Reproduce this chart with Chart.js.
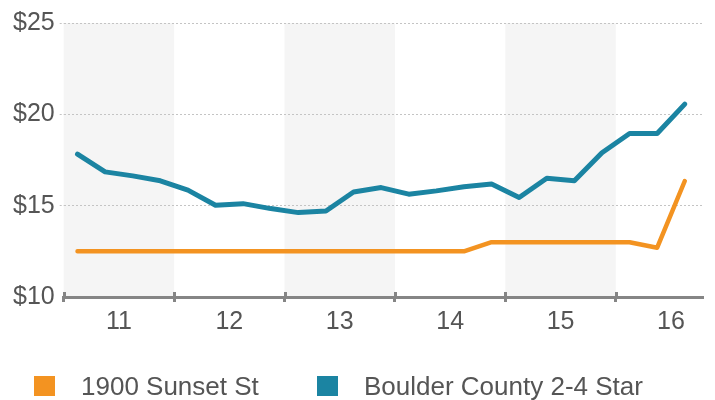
<!DOCTYPE html>
<html>
<head>
<meta charset="utf-8">
<script src="https://cdn.jsdelivr.net/npm/chart.js@4"></script>
<style>
  html, body { margin: 0; padding: 0; background: #fff; }
  #wrap { position: relative; width: 715px; height: 400px; overflow: hidden; }
  #legend { position: absolute; left: 0; top: 0; width: 715px; height: 400px; pointer-events: none; }
  .item { position: absolute; top: 374px; height: 24px; display: flex; align-items: center;
          font-family: "Liberation Sans", Arial, sans-serif; font-size: 26px; color: #555; white-space: nowrap; }
  .sw { width: 21px; height: 20px; margin-right: 26px; flex: none; }
</style>
</head>
<body>
<div id="wrap">
  <canvas id="c" width="715" height="400"></canvas>
  <div id="legend"></div>
</div>
<script>
// ---- data ----
const categories = ['2011 Q1','2011 Q2','2011 Q3','2011 Q4',
                    '2012 Q1','2012 Q2','2012 Q3','2012 Q4',
                    '2013 Q1','2013 Q2','2013 Q3','2013 Q4',
                    '2014 Q1','2014 Q2','2014 Q3','2014 Q4',
                    '2015 Q1','2015 Q2','2015 Q3','2015 Q4',
                    '2016 Q1','2016 Q2','2016 Q3'];
const sunsetValues  = [12.5, 12.5, 12.5, 12.5, 12.5, 12.5, 12.5, 12.5,
                       12.5, 12.5, 12.5, 12.5, 12.5, 12.5, 12.5, 13.0,
                       13.0, 13.0, 13.0, 13.0, 13.0, 12.7, 16.35];
const boulderValues = [17.82, 16.85, 16.63, 16.36, 15.85, 15.02, 15.11, 14.84,
                       14.62, 14.71, 15.75, 15.99, 15.63, 15.81, 16.04, 16.18,
                       15.45, 16.50, 16.36, 17.90, 18.95, 18.95, 20.56];
const seriesNames = ['1900 Sunset St', 'Boulder County 2-4 Star'];
const tickYears  = [2011, 2012, 2013, 2014, 2015, 2016];
const tickLabels = ['11', '12', '13', '14', '15', '16'];
const shadedYears = [2011, 2013, 2015];
const yTicks = [10, 15, 20, 25];

// ---- styles ----
const ORANGE = '#F39321';
const BLUE = '#1B84A2';
const TEXT = '#555555';
const AXIS = '#858585';
const GRID = '#c4c4c4';
const BAND = '#f5f5f5';
const FONT = { family: '"Liberation Sans", Arial, sans-serif', size: 25 };

function toX(cat) {
  const [y, q] = cat.split(' Q');
  return Number(y) + (Number(q) - 0.5) / 4;
}
const sunsetPts = categories.map((c, i) => ({ x: toX(c), y: sunsetValues[i] }));
const boulderPts = categories.map((c, i) => ({ x: toX(c), y: boulderValues[i] }));

const bandPlugin = {
  id: 'bands',
  beforeDraw(chart) {
    const { ctx, chartArea, scales } = chart;
    const xs = scales.x;
    ctx.save();
    ctx.fillStyle = BAND;
    shadedYears.forEach(yr => {
      const x0 = xs.getPixelForValue(yr);
      const x1 = Math.min(xs.getPixelForValue(yr + 1), chartArea.right);
      ctx.fillRect(x0, chartArea.top, x1 - x0, chartArea.bottom - chartArea.top);
    });
    ctx.restore();
  },
  afterDraw(chart) {
    const { ctx, chartArea, scales } = chart;
    const xs = scales.x;
    ctx.save();
    ctx.strokeStyle = AXIS;
    ctx.lineWidth = 3;
    tickYears.forEach(yr => {
      const x = Math.round(xs.getPixelForValue(yr)) + 0.5;
      ctx.beginPath();
      ctx.moveTo(x, chartArea.bottom - 5);
      ctx.lineTo(x, chartArea.bottom);
      ctx.stroke();
    });
    ctx.restore();
  }
};

new Chart(document.getElementById('c'), {
  type: 'line',
  data: {
    datasets: [
      { label: seriesNames[0], data: sunsetPts, borderColor: ORANGE, backgroundColor: ORANGE,
        borderWidth: 4.5, pointRadius: 0, tension: 0, borderJoinStyle: 'round', borderCapStyle: 'round' },
      { label: seriesNames[1], data: boulderPts, borderColor: BLUE, backgroundColor: BLUE,
        borderWidth: 5, pointRadius: 0, tension: 0, borderJoinStyle: 'round', borderCapStyle: 'round' }
    ]
  },
  options: {
    responsive: false,
    animation: false,
    devicePixelRatio: 1,
    layout: { padding: { left: 8, right: 12, top: 23, bottom: 58 } },
    plugins: { legend: { display: false }, tooltip: { enabled: false } },
    scales: {
      x: {
        type: 'linear',
        min: 2011,
        max: 2016.79,
        afterBuildTicks(scale) {
          const t = [];
          tickYears.forEach(y => { t.push({ value: y }); t.push({ value: y + 0.5 }); });
          scale.ticks = t;
        },
        ticks: {
          autoSkip: false, maxRotation: 0, font: FONT, color: TEXT, padding: 5,
          callback(v) {
            if (Number.isInteger(v)) return '';
            return tickLabels[tickYears.indexOf(Math.floor(v))];
          }
        },
        grid: {
          drawOnChartArea: false, drawTicks: true, tickLength: 5, tickWidth: 3,
          tickColor: ctx => (ctx.tick && Number.isInteger(ctx.tick.value)) ? AXIS : 'rgba(0,0,0,0)'
        },
        border: { display: true, color: AXIS, width: 3 }
      },
      y: {
        min: 10, max: 25,
        afterBuildTicks(scale) { scale.ticks = yTicks.map(v => ({ value: v })); },
        ticks: { font: FONT, color: TEXT, padding: 5, callback: v => '$' + v },
        grid: {
          color: ctx => (ctx.tick && ctx.tick.value === 10) ? 'rgba(0,0,0,0)' : GRID,
          lineWidth: 1, tickLength: 4,
          tickColor: ctx => (ctx.tick && ctx.tick.value === 10) ? 'rgba(0,0,0,0)' : GRID,
          tickBorderDash: [2, 2]
        },
        border: { display: false, dash: [2, 2] }
      }
    }
  },
  plugins: [bandPlugin]
});

// HTML legend built from the datasets
const legendLefts = [34, 317];
const legendColors = [ORANGE, BLUE];
const lg = document.getElementById('legend');
seriesNames.forEach((name, i) => {
  const it = document.createElement('div');
  it.className = 'item';
  it.style.left = legendLefts[i] + 'px';
  const sw = document.createElement('span');
  sw.className = 'sw';
  sw.style.background = legendColors[i];
  const tx = document.createElement('span');
  tx.textContent = name;
  it.appendChild(sw); it.appendChild(tx);
  lg.appendChild(it);
});
</script>
</body>
</html>
